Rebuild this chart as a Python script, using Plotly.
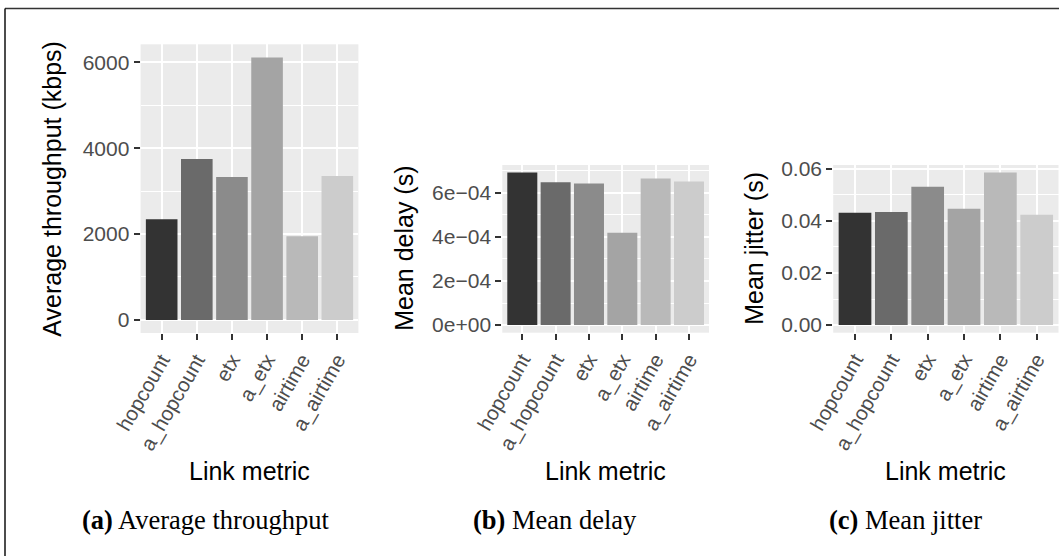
import plotly.graph_objects as go

# ---- data ----
categories = ["hopcount", "a_hopcount", "etx", "a_etx", "airtime", "a_airtime"]
throughput_kbps = [2346, 3750, 3330, 6118, 1949, 3353]
mean_delay_s = [6.91e-4, 6.47e-4, 6.42e-4, 4.18e-4, 6.64e-4, 6.51e-4]
mean_jitter_s = [0.0431, 0.0434, 0.0531, 0.0446, 0.0585, 0.0423]

throughput_ticks = [0, 2000, 4000, 6000]
throughput_ticktext = ["0", "2000", "4000", "6000"]
delay_ticks = [0, 2e-4, 4e-4, 6e-4]
delay_ticktext = ["0e+00", "2e\u221204", "4e\u221204", "6e\u221204"]
jitter_ticks = [0, 0.02, 0.04, 0.06]
jitter_ticktext = ["0.00", "0.02", "0.04", "0.06"]

bar_colors = ["#333333", "#6A6A6A", "#8B8B8B", "#A4A4A4", "#B9B9B9", "#CCCCCC"]

W, H = 1059, 556
SANS = "Liberation Sans, Arial, Helvetica, sans-serif"
SERIF = "Liberation Serif, Times New Roman, serif"


def px_x(a, b):
    return [a / W, b / W]


def px_y(top, bottom):
    return [(H - bottom) / H, (H - top) / H]


panels = [
    dict(vals=throughput_kbps, ticks=throughput_ticks, text=throughput_ticktext,
         xdom=px_x(140.6, 358.4), ydom=px_y(44.3, 333.0),
         title="Average throughput (kbps)", title_x=52, caption="<b>(a)</b> Average throughput", cap_x=205),
    dict(vals=mean_delay_s, ticks=delay_ticks, text=delay_ticktext,
         xdom=px_x(502.3, 709.0), ydom=px_y(165.0, 332.7),
         title="Mean delay (s)", title_x=404, caption="<b>(b)</b> Mean delay", cap_x=555),
    dict(vals=mean_jitter_s, ticks=jitter_ticks, text=jitter_ticktext,
         xdom=px_x(833.2, 1058.5), ydom=px_y(165.0, 332.7),
         title="Mean jitter (s)", title_x=754, caption="<b>(c)</b> Mean jitter", cap_x=905),
]

fig = go.Figure()
layout = dict(
    width=W, height=H,
    margin=dict(l=0, r=0, t=0, b=0, pad=0, autoexpand=False),
    paper_bgcolor="white",
    plot_bgcolor="#EBEBEB",
    showlegend=False,
    bargap=0.1,
    template="none",
    font=dict(family=SANS, color="#000000"),
)

annotations = []
for i, p in enumerate(panels):
    n = "" if i == 0 else str(i + 1)
    fig.add_trace(go.Bar(
        x=categories, y=p["vals"], marker=dict(color=bar_colors, line=dict(width=0)),
        xaxis="x" + n, yaxis="y" + n, hoverinfo="x+y",
    ))
    vmax = max(p["vals"])
    step = p["ticks"][1] - p["ticks"][0]
    minor_vals = [t + step / 2 for t in p["ticks"]]
    layout["xaxis" + n] = dict(
        domain=p["xdom"], anchor="y" + n, type="category", automargin=False,
        range=[-0.6, len(categories) - 0.4],
        showgrid=True, gridcolor="white", gridwidth=1.8,
        ticks="outside", ticklen=6, tickwidth=2, tickcolor="#333333",
        tickangle=-60, tickfont=dict(family=SANS, size=20.5, color="#4D4D4D"),
        showline=False, zeroline=False, fixedrange=True,
    )
    layout["yaxis" + n] = dict(
        domain=p["ydom"], anchor="x" + n, automargin=False,
        range=[-0.05 * vmax, 1.05 * vmax],
        tickmode="array", tickvals=p["ticks"], ticktext=p["text"],
        showgrid=True, gridcolor="white", gridwidth=1.8,
        minor=dict(tickmode="array", tickvals=minor_vals, showgrid=True,
                   gridcolor="white", gridwidth=0.9, ticks=""),
        ticks="outside", ticklen=6, tickwidth=2, tickcolor="#333333",
        tickfont=dict(family=SANS, size=21, color="#4D4D4D"),
        showline=False, zeroline=False, fixedrange=True,
    )
    xc = (p["xdom"][0] + p["xdom"][1]) / 2
    yc = (p["ydom"][0] + p["ydom"][1]) / 2
    annotations.append(dict(
        text=p["title"], textangle=-90, xref="paper", yref="paper",
        x=p["title_x"] / W, y=yc, xanchor="center", yanchor="middle",
        showarrow=False, font=dict(family=SANS, size=25, color="#000000"),
    ))
    annotations.append(dict(
        text="Link metric", xref="paper", yref="paper",
        x=xc, y=(H - 471) / H, xanchor="center", yanchor="middle",
        showarrow=False, font=dict(family=SANS, size=25, color="#000000"),
    ))
    annotations.append(dict(
        text=p["caption"], xref="paper", yref="paper",
        x=p["cap_x"] / W, y=(H - 520) / H, xanchor="center", yanchor="middle",
        showarrow=False, font=dict(family=SERIF, size=26.5, color="#000000"),
    ))

layout["annotations"] = annotations
layout["shapes"] = [
    dict(type="line", xref="paper", yref="paper", x0=5 / W, x1=1, y0=(H - 8.5) / H, y1=(H - 8.5) / H,
         line=dict(color="#333333", width=1.5)),
    dict(type="line", xref="paper", yref="paper", x0=5 / W, x1=5 / W, y0=0, y1=(H - 8.5) / H,
         line=dict(color="#111111", width=1.5)),
]
fig.update_layout(**layout)
fig.write_html(
    "out.html",
    config={"displayModeBar": False, "responsive": False},
    post_script="document.body.style.margin='0';document.documentElement.style.overflow='hidden';document.body.style.overflow='hidden';",
)
